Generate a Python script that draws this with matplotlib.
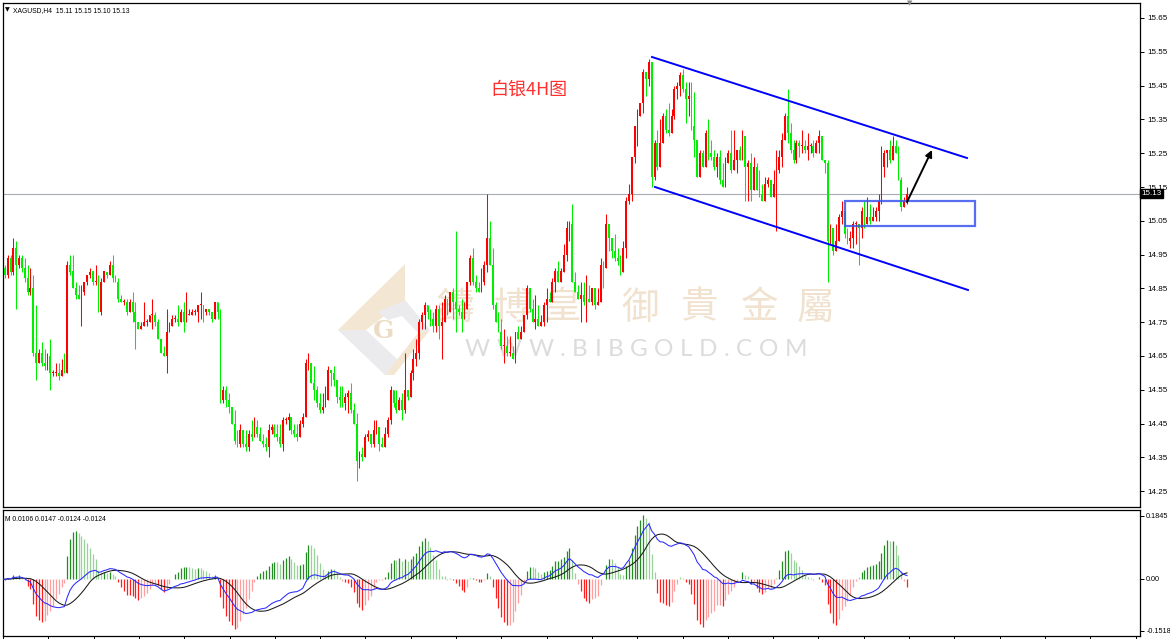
import numpy as np
import pandas as pd
import matplotlib
matplotlib.use("Agg")
import matplotlib.pyplot as plt
from matplotlib.patches import Polygon, Rectangle

plt.rcParams['font.family'] = ['Liberation Sans', 'DejaVu Sans']

# ---- data (XAGUSD H4) ----
first_open = 14.87
closes = [
    # A
    14.91, 14.89, 14.94, 14.90, 14.97, 14.92, 14.94, 14.91, 14.88, 14.84,
    14.85, 14.66, 14.63, 14.66, 14.63, 14.62, 14.65, 14.60, 14.60, 14.60,
    14.59, 14.61, 14.60, 14.92, 14.90, 14.85, 14.83, 14.82, 14.84, 14.87,
    14.89, 14.90, 14.87, 14.87, 14.78, 14.87, 14.90, 14.89, 14.92, 14.88,
    14.87, 14.82, 14.81, 14.81, 14.78, 14.81, 14.78, 14.75, 14.73, 14.74,
    14.75, 14.75, 14.77, 14.77, 14.75, 14.70, 14.66, 14.65, 14.72, 14.74,
    14.76, 14.76, 14.75, 14.78, 14.75, 14.77, 14.77, 14.78, 14.78, 14.80,
    14.80, 14.78, 14.79, 14.78, 14.76, 14.81, 14.78, 14.52,
    # B
    14.55, 14.52, 14.50, 14.45, 14.40, 14.39, 14.43, 14.39, 14.38, 14.42,
    14.41, 14.44, 14.42, 14.40, 14.39, 14.38, 14.43, 14.44, 14.42, 14.41,
    14.39, 14.46, 14.46, 14.47, 14.43, 14.42, 14.41, 14.45, 14.47, 14.63,
    14.63, 14.57, 14.55, 14.51, 14.49, 14.50, 14.52, 14.61, 14.60, 14.58,
    14.53, 14.52, 14.51, 14.53, 14.54, 14.49, 14.45, 14.34, 14.36, 14.35,
    14.41, 14.42, 14.39, 14.43, 14.44, 14.39, 14.38, 14.42, 14.46, 14.55,
    14.51, 14.49, 14.52, 14.49, 14.55, 14.53, 14.60, 14.64, 14.66, 14.75,
    14.77, 14.80, 14.78, 14.76, 14.74, 14.79, 14.74, 14.75, 14.82, 14.78,
    # C
    14.84, 14.81, 14.79, 14.78, 14.76, 14.79, 14.87, 14.94, 14.87, 14.85,
    14.84, 14.87, 14.92, 15.00, 14.92, 14.80, 14.75, 14.72, 14.68, 14.68,
    14.66, 14.66, 14.64, 14.72, 14.70, 14.72, 14.77, 14.85, 14.79, 14.75,
    14.76, 14.74, 14.75, 14.80, 14.82, 14.81, 14.87, 14.90, 14.87, 14.90,
    14.95, 15.03, 15.04, 14.87, 14.84, 14.82, 14.83, 14.81, 14.82, 14.81,
    14.85, 14.80, 14.81, 14.92, 14.91, 15.04, 15.00, 14.96, 14.94, 14.93,
    14.90, 14.97, 15.11, 15.13, 15.24, 15.33, 15.36, 15.40, 15.49, 15.47,
    15.52, 15.18, 15.28, 15.21, 15.28, 15.36, 15.32, 15.31, 15.36, 15.44,
    15.45, 15.48, 15.44, 15.41, 15.42, 15.33, 15.29, 15.18, 15.25, 15.21,
    15.31, 15.25, 15.24, 15.21, 15.24, 15.17, 15.15, 15.22, 15.25, 15.20,
    15.23, 15.26, 15.23, 15.30, 15.21, 15.22, 15.14, 15.21, 15.14, 15.13,
    15.11, 15.16, 15.17, 15.12, 15.16, 15.20, 15.24, 15.29, 15.36, 15.31,
    15.26, 15.23, 15.28, 15.27, 15.27, 15.26, 15.27, 15.27, 15.25, 15.28,
    15.30, 15.23, 15.22, 14.99,
    # E
    15.03, 14.96, 14.99, 15.06, 15.08, 15.01, 14.99, 15.00, 15.04, 15.04,
    15.03, 15.08, 15.04, 15.06, 15.05, 15.06, 15.08, 15.11, 15.21, 15.25,
    15.26, 15.23, 15.27, 15.25, 15.17, 15.09, 15.11, 15.13,
]
highs = [
    14.92, 14.92, 14.95, 14.95, 15.00, 14.99, 14.95, 14.95, 14.94, 14.92,
    14.91, 14.89, 14.80, 14.67, 14.69, 14.67, 14.66, 14.70, 14.61, 14.63,
    14.63, 14.64, 14.66, 14.93, 14.95, 14.95, 14.87, 14.86, 14.86, 14.87,
    14.89, 14.91, 14.90, 14.92, 14.89, 14.88, 14.90, 14.90, 14.93, 14.95,
    14.89, 14.88, 14.83, 14.82, 14.82, 14.82, 14.84, 14.81, 14.75, 14.75,
    14.81, 14.76, 14.77, 14.82, 14.78, 14.76, 14.70, 14.68, 14.79, 14.75,
    14.77, 14.77, 14.80, 14.79, 14.81, 14.84, 14.79, 14.79, 14.79, 14.80,
    14.84, 14.79, 14.79, 14.79, 14.78, 14.81, 14.80, 14.79,
    14.56, 14.56, 14.54, 14.49, 14.49, 14.43, 14.45, 14.43, 14.43, 14.43,
    14.46, 14.47, 14.46, 14.44, 14.42, 14.41, 14.45, 14.45, 14.45, 14.45,
    14.45, 14.47, 14.47, 14.48, 14.46, 14.45, 14.45, 14.46, 14.48, 14.64,
    14.66, 14.63, 14.62, 14.56, 14.54, 14.54, 14.56, 14.62, 14.61, 14.62,
    14.58, 14.56, 14.56, 14.54, 14.55, 14.57, 14.51, 14.48, 14.37, 14.38,
    14.42, 14.43, 14.42, 14.46, 14.46, 14.44, 14.41, 14.44, 14.47, 14.56,
    14.54, 14.55, 14.53, 14.54, 14.66, 14.55, 14.61, 14.67, 14.70, 14.76,
    14.78, 14.81, 14.80, 14.79, 14.78, 14.80, 14.80, 14.81, 14.83, 14.82,
    14.84, 14.85, 15.02, 14.80, 14.82, 14.81, 14.87, 14.95, 14.97, 14.89,
    14.87, 14.91, 14.93, 15.13, 15.05, 14.97, 14.81, 14.78, 14.76, 14.73,
    14.71, 14.71, 14.68, 14.72, 14.74, 14.74, 14.77, 14.86, 14.85, 14.82,
    14.83, 14.80, 14.77, 14.81, 14.85, 14.84, 14.88, 14.91, 14.93, 14.91,
    14.98, 15.05, 15.05, 15.10, 14.90, 14.86, 14.87, 14.87, 14.89, 14.86,
    14.85, 14.84, 14.85, 14.94, 14.93, 15.07, 15.02, 15.00, 15.01, 14.97,
    14.95, 14.99, 15.12, 15.16, 15.24, 15.33, 15.38, 15.40, 15.50, 15.48,
    15.53, 15.50, 15.29, 15.32, 15.35, 15.37, 15.38, 15.40, 15.38, 15.45,
    15.46, 15.49, 15.50, 15.46, 15.46, 15.46, 15.43, 15.28, 15.26, 15.26,
    15.32, 15.35, 15.29, 15.26, 15.25, 15.26, 15.22, 15.24, 15.26, 15.32,
    15.32, 15.26, 15.27, 15.32, 15.25, 15.23, 15.25, 15.24, 15.22, 15.20,
    15.16, 15.18, 15.18, 15.17, 15.20, 15.26, 15.26, 15.31, 15.37, 15.44,
    15.34, 15.29, 15.29, 15.29, 15.32, 15.29, 15.31, 15.28, 15.29, 15.29,
    15.32, 15.29, 15.22, 15.23,
    15.04, 15.01, 15.04, 15.07, 15.11, 15.07, 15.03, 15.02, 15.05, 15.05,
    15.04, 15.09, 15.11, 15.12, 15.10, 15.09, 15.09, 15.13, 15.27, 15.26,
    15.26, 15.29, 15.30, 15.29, 15.27, 15.18, 15.12, 15.15,
]
lows = [
    14.86, 14.88, 14.88, 14.89, 14.89, 14.79, 14.91, 14.90, 14.87, 14.83,
    14.83, 14.65, 14.58, 14.63, 14.62, 14.61, 14.61, 14.55, 14.59, 14.59,
    14.58, 14.59, 14.60, 14.60, 14.89, 14.85, 14.82, 14.82, 14.74, 14.83,
    14.86, 14.88, 14.86, 14.86, 14.78, 14.77, 14.87, 14.88, 14.89, 14.87,
    14.87, 14.81, 14.81, 14.80, 14.77, 14.78, 14.75, 14.67, 14.73, 14.73,
    14.74, 14.74, 14.75, 14.73, 14.74, 14.70, 14.66, 14.65, 14.60, 14.73,
    14.75, 14.75, 14.74, 14.77, 14.72, 14.76, 14.77, 14.77, 14.77, 14.75,
    14.76, 14.75, 14.77, 14.77, 14.75, 14.77, 14.76, 14.51,
    14.51, 14.50, 14.48, 14.45, 14.39, 14.38, 14.38, 14.38, 14.37, 14.37,
    14.40, 14.41, 14.41, 14.40, 14.38, 14.37, 14.35, 14.42, 14.41, 14.40,
    14.38, 14.37, 14.45, 14.43, 14.42, 14.41, 14.40, 14.42, 14.44, 14.47,
    14.61, 14.57, 14.52, 14.50, 14.48, 14.48, 14.50, 14.52, 14.56, 14.56,
    14.51, 14.50, 14.50, 14.49, 14.48, 14.48, 14.45, 14.28, 14.32, 14.34,
    14.35, 14.40, 14.38, 14.38, 14.42, 14.37, 14.38, 14.38, 14.41, 14.45,
    14.50, 14.48, 14.50, 14.46, 14.48, 14.52, 14.54, 14.58, 14.62, 14.64,
    14.73, 14.73, 14.76, 14.74, 14.72, 14.72, 14.70, 14.64, 14.75, 14.77,
    14.78, 14.76, 14.72, 14.77, 14.72, 14.77, 14.79, 14.86, 14.86, 14.84,
    14.84, 14.84, 14.86, 14.90, 14.92, 14.79, 14.75, 14.72, 14.67, 14.63,
    14.65, 14.65, 14.64, 14.63, 14.70, 14.72, 14.74, 14.76, 14.78, 14.75,
    14.73, 14.74, 14.74, 14.74, 14.75, 14.81, 14.81, 14.84, 14.87, 14.88,
    14.92, 14.93, 14.99, 14.87, 14.84, 14.82, 14.75, 14.80, 14.75, 14.81,
    14.80, 14.79, 14.81, 14.81, 14.85, 14.92, 14.96, 14.94, 14.93, 14.92,
    14.89, 14.90, 14.94, 15.10, 15.11, 15.22, 15.27, 15.36, 15.37, 15.42,
    15.45, 15.15, 15.17, 15.20, 15.27, 15.28, 15.31, 15.30, 15.33, 15.35,
    15.41, 15.42, 15.43, 15.34, 15.36, 15.32, 15.24, 15.18, 15.19, 15.21,
    15.23, 15.23, 15.23, 15.20, 15.18, 15.16, 15.15, 15.15, 15.22, 15.19,
    15.23, 15.19, 15.23, 15.25, 15.11, 15.11, 15.11, 15.16, 15.14, 15.12,
    15.11, 15.13, 15.15, 15.12, 15.14, 15.02, 15.19, 15.21, 15.29, 15.28,
    15.25, 15.22, 15.22, 15.24, 15.25, 15.25, 15.23, 15.25, 15.24, 15.25,
    15.25, 15.23, 15.19, 14.87,
    14.98, 14.95, 14.97, 14.99, 15.04, 15.00, 14.98, 14.97, 14.97, 14.98,
    14.92, 15.00, 15.03, 15.05, 15.04, 15.05, 15.05, 15.05, 15.10, 15.18,
    15.21, 15.22, 15.26, 15.25, 15.17, 15.08, 15.09, 15.10,
]

price_ticks = [15.65, 15.55, 15.45, 15.35, 15.25, 15.15, 15.05, 14.95,
               14.85, 14.75, 14.65, 14.55, 14.45, 14.35, 14.25]
macd_ticks = [0.1845, 0.0, -0.1518]
macd_tick_labels = ["0.1845", "0.00", "-0.1518"]
last_price = 15.13
header = "XAGUSD,H4  15.11 15.15 15.10 15.13"
macd_header = "M 0.0106 0.0147 -0.0124 -0.0124"
chart_title = "白银4H图"
wm_cn = ["鑄", "博", "皇", "御", "貴", "金", "屬"]
wm_en = "WWW.BIBGOLD.COM"

# ---- derived series ----
c = np.array(closes)
o = np.concatenate([[first_open], c[:-1]])
h = np.maximum(np.array(highs), np.maximum(o, c))
l = np.minimum(np.array(lows), np.minimum(o, c))
n = len(c)
idx = np.arange(n)


def ema(a, span):
    k = 2.0 / (span + 1)
    out = np.empty_like(a)
    out[0] = a[0]
    for i in range(1, len(a)):
        out[i] = a[i] * k + out[i - 1] * (1 - k)
    return out


macd = ema(c, 12) - ema(c, 26)
signal = pd.Series(macd).rolling(9, min_periods=1).mean().values
hist = 3 * (macd - signal)

# ---- layout in pixels ----
W, H = 1170, 639
fig = plt.figure(figsize=(W / 100, H / 100), dpi=100)
fig.patch.set_facecolor('white')

X_FIRST, X_LAST = 2.0, 907.0
dx = (X_LAST - X_FIRST) / (n - 1)


def bx(px):
    return (px - X_FIRST) / dx


def add_px_axes(left, top, right, bottom):
    return fig.add_axes([left / W, 1 - bottom / H, (right - left) / W, (bottom - top) / H])


ax = add_px_axes(3, 3, 1140, 507)
axm = add_px_axes(3, 510, 1140, 636)

P_TOP = 15.65 + 15 / 338.0
P_BOT = P_TOP - 504 / 338.0
ax.set_ylim(P_BOT, P_TOP)
axm.set_ylim(-0.167, 0.202)
for a in (ax, axm):
    a.set_xlim(bx(3), bx(1140))
    for s in a.spines.values():
        s.set_color('black')
        s.set_linewidth(0.9)


def py(y):
    return P_TOP - (y - 3) / 338.0


# ---- watermark ----
tan = '#f3e6d2'
grey = '#ebebee'
shapes = [
    ([(338, 330), (405, 264), (405, 300), (366, 330)], tan),
    ([(338, 330), (366, 330), (398, 360), (385, 375)], grey),
    ([(378, 312), (405, 300), (430, 330), (418, 333), (402, 316), (388, 320)], grey),
    ([(418, 333), (430, 330), (394, 375), (385, 375)], tan),
]
for pts, col in shapes:
    ax.add_patch(Polygon([(bx(x), py(y)) for x, y in pts], closed=True,
                         facecolor=col, edgecolor='none', zorder=0))
ax.text(bx(384), py(331), "G", fontsize=18, fontweight='bold', color='#ecdcc4',
        ha='center', va='center', zorder=0, family=['DejaVu Serif'])
for ch, xc in zip(wm_cn, [455, 512, 562, 640, 700, 760, 815]):
    ax.text(bx(xc), py(308), ch, fontsize=27, color='#f1e2cf', ha='center', va='center',
            family=['Noto Sans CJK TC', 'DejaVu Sans'], zorder=0)

# spaced-out site name: measure glyphs, then spread them evenly from x=465 to 807
renderer = fig.canvas.get_renderer()
letters = [ax.text(0, py(349), ch, fontsize=17.5, color='#dcdcdc',
                   family=['Lato', 'DejaVu Sans'], ha='left', va='center', zorder=0)
           for ch in wm_en]
widths = [t.get_window_extent(renderer).width for t in letters]
gap = (807 - 465 - sum(widths)) / (len(widths) - 1)
xpos = 465.0
for t, w in zip(letters, widths):
    t.set_x(bx(xpos))
    xpos += w + gap

# ---- candles ----
up = c >= o
col = np.where(up, '#ff0000', '#00ee00')
ax.vlines(idx, l, h, colors=col, linewidth=0.75, zorder=3)
body_lo = np.minimum(o, c)
body_h = np.maximum(np.abs(c - o), 0.003)
ax.bar(idx, body_h, bottom=body_lo, width=0.62, color=col, linewidth=0, zorder=3)

# current price line
ax.axhline(last_price, color='#a6adb5', linewidth=0.8, zorder=1)

# channel, box and arrow
ax.plot([bx(652), bx(967)], [py(57), py(158)], color='#0000ff', linewidth=1.4, zorder=4)
ax.plot([bx(655), bx(968)], [py(187), py(290)], color='#0000ff', linewidth=1.4, zorder=4)
ax.add_patch(Rectangle((bx(845), py(226)), bx(975) - bx(845), py(201) - py(226),
                       fill=False, edgecolor='#3a55ee', linewidth=1.6, alpha=0.85, zorder=4))
ax.annotate("", xy=(bx(932), py(150)), xytext=(bx(907), py(202)),
            arrowprops=dict(arrowstyle='-|>', color='black', lw=1.4,
                            mutation_scale=10, shrinkA=0, shrinkB=0), zorder=5)

ax.text(bx(490), py(90), chart_title, fontsize=13, color='#ff3030', ha='left', va='center',
        family=['Noto Sans CJK SC', 'DejaVu Sans'], zorder=5)

# header
ax.text(0.002, 0.991, "\u25bc", transform=ax.transAxes, fontsize=4.5,
        ha='left', va='top', color='black', family=['DejaVu Sans'])
ax.text(0.0085, 0.992, header, transform=ax.transAxes, fontsize=4.9,
        ha='left', va='top', color='black')
ax.text(bx(910), P_TOP, "\u25bc", fontsize=5, color='#8a8a8a', ha='center', va='center',
        clip_on=False, family=['DejaVu Sans'])

# price axis
ax.set_xticks([])
ax.yaxis.tick_right()
ax.set_yticks(price_ticks)
ax.set_yticklabels(["%.2f" % v for v in price_ticks])
ax.tick_params(axis='y', direction='out', length=3, width=0.7, labelsize=5.8, pad=2)
ax.text(1.0015, (last_price - P_BOT) / (P_TOP - P_BOT), "%.2f" % last_price,
        transform=ax.transAxes, fontsize=5.8, color='white', ha='left', va='center',
        bbox=dict(boxstyle='square,pad=0.15', facecolor='black', edgecolor='black'),
        zorder=10)

# ---- MACD panel ----
mag = np.abs(hist)
growing = np.concatenate([[True], mag[1:] >= mag[:-1]])
hcol = np.where(hist >= 0,
                np.where(growing, '#228b22', '#98d298'),
                np.where(growing, '#ff1e1e', '#ff9e9e'))
axm.vlines(idx, 0, hist, colors=hcol, linewidth=0.9, zorder=2)
axm.plot(idx, signal, color='#1a1a1a', linewidth=0.75, zorder=3)
axm.plot(idx, macd, color='#2a2aff', linewidth=0.75, zorder=4)
axm.text(0.002, 0.955, macd_header, transform=axm.transAxes, fontsize=4.9,
         ha='left', va='top', color='black')
axm.yaxis.tick_right()
axm.set_yticks(macd_ticks)
axm.set_yticklabels(macd_tick_labels)
axm.tick_params(axis='y', direction='out', length=3, width=0.7, labelsize=5.2, pad=1.5)
axm.set_xticks([bx(3 + 45.3 * k) for k in range(26)])
axm.set_xticklabels([])
axm.tick_params(axis='x', direction='out', length=3, width=0.7)

fig.savefig("out.png", dpi=100)
